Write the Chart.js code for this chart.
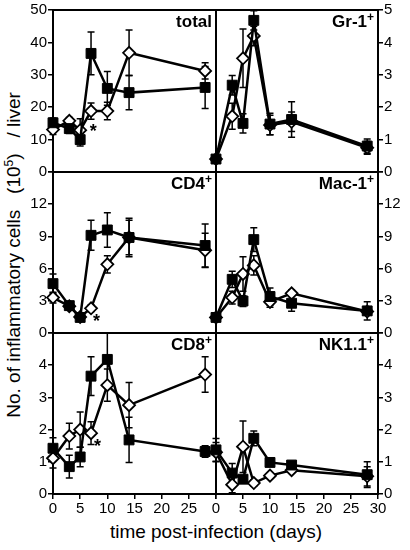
<!DOCTYPE html>
<html>
<head>
<meta charset="utf-8">
<script src="https://cdn.jsdelivr.net/npm/chart.js@4.4.1/dist/chart.umd.min.js"></script>
<style>
  body { margin: 0; background: #fff; width: 410px; height: 550px; position: relative; overflow: hidden;
         font-family: "Liberation Sans", Arial, sans-serif; color: #000; }
  canvas { position: absolute; left: 0; top: 0; }
  #ytitle { position: absolute; left: 12.5px; top: 255px; transform: translate(-50%, -50%) rotate(-90deg);
            white-space: pre; font-size: 19px; line-height: 1; }
  #xtitle { position: absolute; left: 216px; top: 522px; transform: translateX(-50%);
            white-space: pre; font-size: 19px; line-height: 1; }
  sup { font-size: 12px; vertical-align: 7px; line-height: 0; }
</style>
</head>
<body>
<div id="ytitle">No. of inflammatory cells   (10<sup>5</sup>)   / liver</div>
<div id="xtitle">time post-infection (days)</div>
<script>
// days after infection
var days = [0, 3, 5, 7, 10, 14, 28];

// total cells (x10^5 / liver)
var totalFilled    = [15.2, 13.4, 10.0, 36.6, 25.8, 24.5, 26.1];
var totalFilledErr = [1.5, 1.5, 2, 6.6, 5.2, 5.3, 6.5];
var totalOpen      = [13.1, 15.8, 12.9, 18.8, 18.8, 36.8, 31.2];
var totalOpenErr   = [1.5, 1, 3.5, 2.5, 2.7, 7, 2.5];

// Gr-1+
var grFilled    = [0.4, 2.68, 1.5, 4.68, 1.48, 1.62, 0.8];
var grFilledErr = [0.05, 0.3, 0.3, 0.3, 0.33, 0.55, 0.22];
var grOpen      = [0.4, 1.72, 3.51, 4.2, 1.45, 1.55, 0.75];
var grOpenErr   = [0.05, 0.4, 0.9, 0.3, 0.3, 0.3, 0.2];

// CD4+
var cd4Filled    = [4.6, 2.55, 1.45, 9.1, 9.6, 8.9, 8.15];
var cd4FilledErr = [0.9, 0.3, 0.2, 1.4, 1.6, 1.8, 2.0];
var cd4Open      = [3.3, 2.5, 1.5, 2.3, 6.4, 8.9, 7.7];
var cd4OpenErr   = [0.5, 0.3, 0.2, 0.3, 0.8, 1.6, 1.6];

// Mac-1+
var macFilled    = [1.45, 5.0, 2.98, 8.7, 3.4, 2.77, 2.06];
var macFilledErr = [0.2, 0.75, 0.5, 1.1, 0.8, 0.75, 0.85];
var macOpen      = [1.45, 3.3, 5.5, 6.3, 2.9, 3.7, 2.0];
var macOpenErr   = [0.2, 0.6, 1.6, 0.9, 0.5, 0.3, 0.3];

// CD8+
var cd8Filled    = [1.42, 0.85, 1.15, 3.66, 4.18, 1.68, 1.32];
var cd8FilledErr = [0.33, 0.35, 0.3, 0.6, 0.85, 0.7, 0.18];
var cd8Open      = [1.11, 1.8, 2.0, 1.89, 3.38, 2.76, 3.71];
var cd8OpenErr   = [0.3, 0.4, 0.55, 0.35, 0.5, 0.7, 0.55];

// NK1.1+
var nkFilled    = [1.37, 0.65, 0.46, 1.73, 0.98, 0.9, 0.6];
var nkFilledErr = [0.35, 0.3, 0.1, 0.23, 0.1, 0.1, 0.4];
var nkOpen      = [1.3, 0.29, 1.47, 0.34, 0.57, 0.74, 0.55];
var nkOpenErr   = [0.3, 0.25, 0.8, 0.1, 0.05, 0.05, 0.3];

// y axis max / tick step per panel: total, Gr-1, CD4, Mac-1, CD8, NK1.1
var yMax  = [50, 5, 15, 15, 5, 5];
var yStep = [10, 1, 3, 3, 1, 1];

// asterisks: [day, value]
var totalStar = [7.4, 13.9];
var cd4Star   = [8.0, 1.45];
var cd8Star   = [8.2, 1.63];

Chart.defaults.font.family = '"Liberation Sans", Arial, sans-serif';
Chart.defaults.color = '#000';

var colLeft = [53, 216], colRight = [216, 378];
var rowTop = [10, 172, 333, 494];

function pts(vals) {
  return vals.map(function (v, i) { return { x: days[i], y: v }; });
}

var panelPlugin = {
  id: 'panel',
  beforeDatasetsDraw: function (chart) {
    var ctx = chart.ctx, a = chart.chartArea, p = chart.options.plugins.panel;
    var xs = chart.scales.x, ys = chart.scales.y;
    ctx.save();
    ctx.strokeStyle = '#000';
    ctx.lineWidth = 2;
    ctx.strokeRect(a.left, a.top, a.right - a.left, a.bottom - a.top);
    ctx.lineWidth = 1.5;
    chart.data.datasets.forEach(function (ds, i) {
      var err = p.errors[i];
      ds.data.forEach(function (pt, j) {
        if (!err[j]) return;
        var x = xs.getPixelForValue(pt.x);
        var y1 = ys.getPixelForValue(pt.y - err[j]);
        var y2 = Math.max(ys.getPixelForValue(pt.y + err[j]), a.top);
        ctx.beginPath();
        ctx.moveTo(x, y1); ctx.lineTo(x, y2);
        ctx.moveTo(x - 3.5, y1); ctx.lineTo(x + 3.5, y1);
        ctx.moveTo(x - 3.5, y2); ctx.lineTo(x + 3.5, y2);
        ctx.stroke();
      });
    });
    ctx.restore();
  },
  afterDraw: function (chart) {
    var ctx = chart.ctx, a = chart.chartArea, p = chart.options.plugins.panel;
    ctx.save();
    ctx.fillStyle = '#000';
    ctx.textBaseline = 'alphabetic';
    var supW = 0;
    if (p.sup) {
      ctx.font = 'bold 12px "Liberation Sans", Arial, sans-serif';
      supW = ctx.measureText(p.sup).width;
      ctx.textAlign = 'right';
      ctx.fillText(p.sup, a.right - 4, a.top + 11);
    }
    ctx.font = 'bold 17px "Liberation Sans", Arial, sans-serif';
    ctx.textAlign = 'right';
    ctx.fillText(p.title, a.right - 4 - supW, a.top + 17);
    if (p.star) {
      ctx.font = 'bold 18px "Liberation Sans", Arial, sans-serif';
      ctx.textAlign = 'center';
      ctx.fillText('*', chart.scales.x.getPixelForValue(p.star[0]), chart.scales.y.getPixelForValue(p.star[1]) + 10);
    }
    ctx.restore();
  }
};

function makePanel(col, row, title, sup, filled, filledErr, open, openErr, star) {
  var canvas = document.createElement('canvas');
  canvas.width = 410; canvas.height = 550;
  document.body.appendChild(canvas);
  var left = col === 0, bottom = row === 2;
  var k = row * 2 + col;
  var yW = 30, xH = 26;
  var pad = {
    left: left ? colLeft[col] - yW : colLeft[col],
    right: left ? 410 - colRight[col] : 410 - colRight[col] - yW,
    top: rowTop[row],
    bottom: bottom ? 550 - rowTop[row + 1] - xH : 550 - rowTop[row + 1]
  };
  var ymax = yMax[k];
  new Chart(canvas, {
    type: 'line',
    data: {
      datasets: [{
        data: pts(filled),
        borderColor: '#000', borderWidth: 2.5,
        pointStyle: 'rect', pointRadius: 7, pointBackgroundColor: '#000',
        pointBorderColor: '#000', pointBorderWidth: 1,
        tension: 0, clip: false
      }, {
        data: pts(open),
        borderColor: '#000', borderWidth: 2.5,
        pointStyle: 'rectRot', pointRadius: 6, pointBackgroundColor: '#fff',
        pointBorderColor: '#000', pointBorderWidth: 1.8,
        tension: 0, clip: false
      }]
    },
    options: {
      responsive: false, animation: false, devicePixelRatio: 1,
      layout: { padding: pad },
      plugins: {
        legend: { display: false }, tooltip: { enabled: false },
        panel: { title: title, sup: sup, errors: [filledErr, openErr], star: star }
      },
      scales: {
        x: {
          type: 'linear', min: 0, max: 30, display: bottom,
          afterFit: function (s) { if (bottom) s.height = xH; },
          ticks: {
            stepSize: 5, autoSkip: false, maxRotation: 0, padding: 1,
            font: { size: 15 },
            callback: function (v) { return (left && v === 30) ? '' : v; }
          },
          grid: { drawOnChartArea: false, drawTicks: true, tickLength: 5, color: '#000', lineWidth: 1.5 },
          border: { display: false }
        },
        y: {
          type: 'linear', min: 0, max: ymax, position: left ? 'left' : 'right',
          afterFit: function (s) { s.width = yW; },
          ticks: {
            stepSize: yStep[k], autoSkip: false, padding: 1,
            font: { size: 15 },
            callback: function (v) { return (row > 0 && v === ymax) ? '' : v; }
          },
          grid: { drawOnChartArea: false, drawTicks: true, tickLength: 5, color: '#000', lineWidth: 1.5 },
          border: { display: false }
        }
      }
    },
    plugins: [panelPlugin]
  });
}

makePanel(0, 0, 'total', '', totalFilled, totalFilledErr, totalOpen, totalOpenErr, totalStar);
makePanel(1, 0, 'Gr-1', '+', grFilled, grFilledErr, grOpen, grOpenErr, null);
makePanel(0, 1, 'CD4', '+', cd4Filled, cd4FilledErr, cd4Open, cd4OpenErr, cd4Star);
makePanel(1, 1, 'Mac-1', '+', macFilled, macFilledErr, macOpen, macOpenErr, null);
makePanel(0, 2, 'CD8', '+', cd8Filled, cd8FilledErr, cd8Open, cd8OpenErr, cd8Star);
makePanel(1, 2, 'NK1.1', '+', nkFilled, nkFilledErr, nkOpen, nkOpenErr, null);
</script>
</body>
</html>
